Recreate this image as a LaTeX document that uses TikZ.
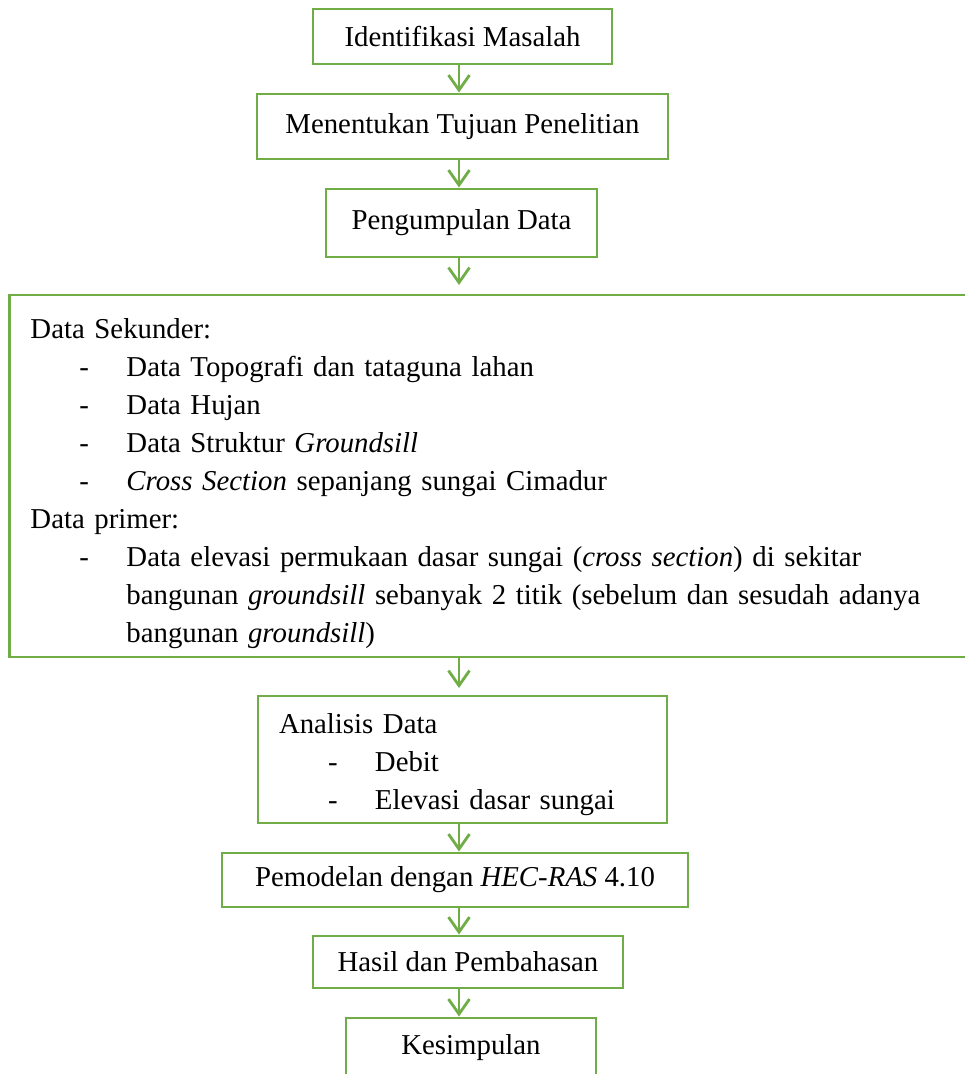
\documentclass[tikz,border=0pt]{standalone}
\usepackage{fontspec}
\setmainfont{Liberation Serif}
\usetikzlibrary{arrows.meta}
\definecolor{grn}{HTML}{70AD47}
\newcommand{\itemline}[1]{\hspace*{49pt}\makebox[47pt][l]{-}#1}
\newcommand{\contline}[1]{\hspace*{96pt}#1}
\begin{document}
\begin{tikzpicture}[x=1pt,y=-1pt,
  box/.style={draw=grn, line width=2.8pt, rectangle, inner sep=0pt, outer sep=0pt,
    font=\fontsize{28.8}{38}\selectfont},
  listbox/.style={box, align=left, inner xsep=21pt, anchor=west},
  arr/.style={draw=grn, line width=2.8pt, -{Straight Barb[length=15pt,width=21pt]}}]
\useasboundingbox (0,0) rectangle (965,1074);
\clip (0,0) rectangle (965,1074);
\coordinate (ax) at (459,0);
\node[box, minimum width=299pt, minimum height=55pt] (b1) at (462.5,36.5) {Identifikasi Masalah};
\node[box, minimum width=411pt, minimum height=65pt] (b2) at (462.5,126.5) {Menentukan Tujuan Penelitian};
\node[box, minimum width=271pt, minimum height=68pt] (b3) at (461.5,223) {Pengumpulan Data};
\node[listbox, text width=938pt, minimum height=362pt] (b4) at (9.5,476) {\rule{0pt}{36pt}Data Sekunder:\\
\itemline{Data Topografi dan tataguna lahan}\\
\itemline{Data Hujan}\\
\itemline{Data Struktur \textit{Groundsill}}\\
\itemline{\textit{Cross Section} sepanjang sungai Cimadur}\\
Data primer:\\
\itemline{Data elevasi permukaan dasar sungai (\textit{cross section}) di sekitar}\\
\contline{bangunan \textit{groundsill} sebanyak 2 titik (sebelum dan sesudah adanya}\\
\contline{bangunan \textit{groundsill})}};
\node[listbox, text width=367pt, minimum height=127pt] (b5) at (258,759.5) {\rule{0pt}{30pt}Analisis Data\\
\itemline{Debit}\\
\itemline{Elevasi dasar sungai}};
\node[box, minimum width=466pt, minimum height=54pt] (b6) at (455,880) {Pemodelan dengan \textit{HEC-RAS} 4.10};
\node[box, minimum width=310pt, minimum height=52pt] (b7) at (468,962) {Hasil dan Pembahasan};
\node[box, minimum width=250pt, minimum height=60pt] (b8) at (471,1048) {Kesimpulan};
\draw[arr, shorten >=1.5pt] (b1.south -| ax) -- (b2.north -| ax);
\draw[arr, shorten >=1.5pt] (b2.south -| ax) -- (b3.north -| ax);
\draw[arr, shorten >=10pt] (b3.south -| ax) -- (b4.north -| ax);
\draw[arr, shorten >=8pt] (b4.south -| ax) -- (b5.north -| ax);
\draw[arr, shorten >=1.5pt] (b5.south -| ax) -- (b6.north -| ax);
\draw[arr, shorten >=1.5pt] (b6.south -| ax) -- (b7.north -| ax);
\draw[arr, shorten >=1.5pt] (b7.south -| ax) -- (b8.north -| ax);
\end{tikzpicture}
\end{document}
